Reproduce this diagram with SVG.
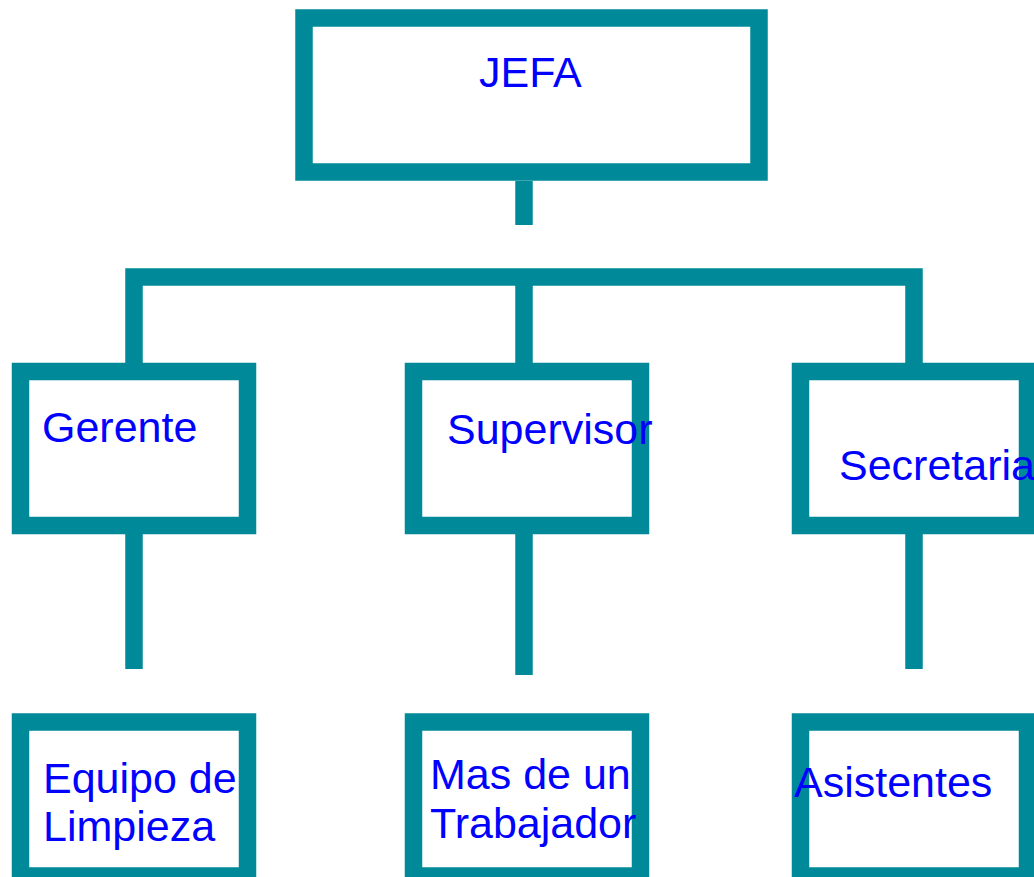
<svg xmlns="http://www.w3.org/2000/svg" width="1034" height="877" viewBox="0 0 1034 877">
<style>
.box{fill:#fff;stroke:#008A99;stroke-width:17.5}
.con{fill:none;stroke:#008A99;stroke-width:17.5;stroke-linejoin:miter;stroke-linecap:butt}
.t{font-family:"Liberation Sans",Arial,sans-serif;font-size:43px;fill:#0000FF}
</style>
<rect width="1034" height="877" fill="#fff"/>
<g id="connectors">
<path class="con" d="M524,181 V225"/>
<path class="con" d="M134,363 V277 H914 V363"/>
<path class="con" d="M524,277 V363"/>
<path class="con" d="M134,534 V669"/>
<path class="con" d="M524,534 V675"/>
<path class="con" d="M914,534 V669"/>
</g>
<g id="jefa"><rect class="box" x="304" y="18" width="455" height="154"/><text class="t" x="479" y="87">JEFA</text></g>
<g id="gerente"><rect class="box" x="20.5" y="371.5" width="227" height="154"/><text class="t" x="42" y="442">Gerente</text></g>
<g id="supervisor"><rect class="box" x="413.5" y="371.5" width="227" height="154"/><text class="t" x="447" y="444">Supervisor</text></g>
<g id="secretaria"><rect class="box" x="800.5" y="371.5" width="227" height="154"/><text class="t" x="839" y="480">Secretaria</text></g>
<g id="equipo"><rect class="box" x="20.5" y="722" width="227" height="154"/><text class="t" x="43" y="793">Equipo de</text><text class="t" x="43" y="841">Limpieza</text></g>
<g id="mas"><rect class="box" x="413.5" y="722" width="227" height="154"/><text class="t" x="430" y="789">Mas de un</text><text class="t" x="430" y="838">Trabajador</text></g>
<g id="asistentes"><rect class="box" x="800.5" y="722" width="227" height="154"/><text class="t" x="794" y="797">Asistentes</text></g>
</svg>
